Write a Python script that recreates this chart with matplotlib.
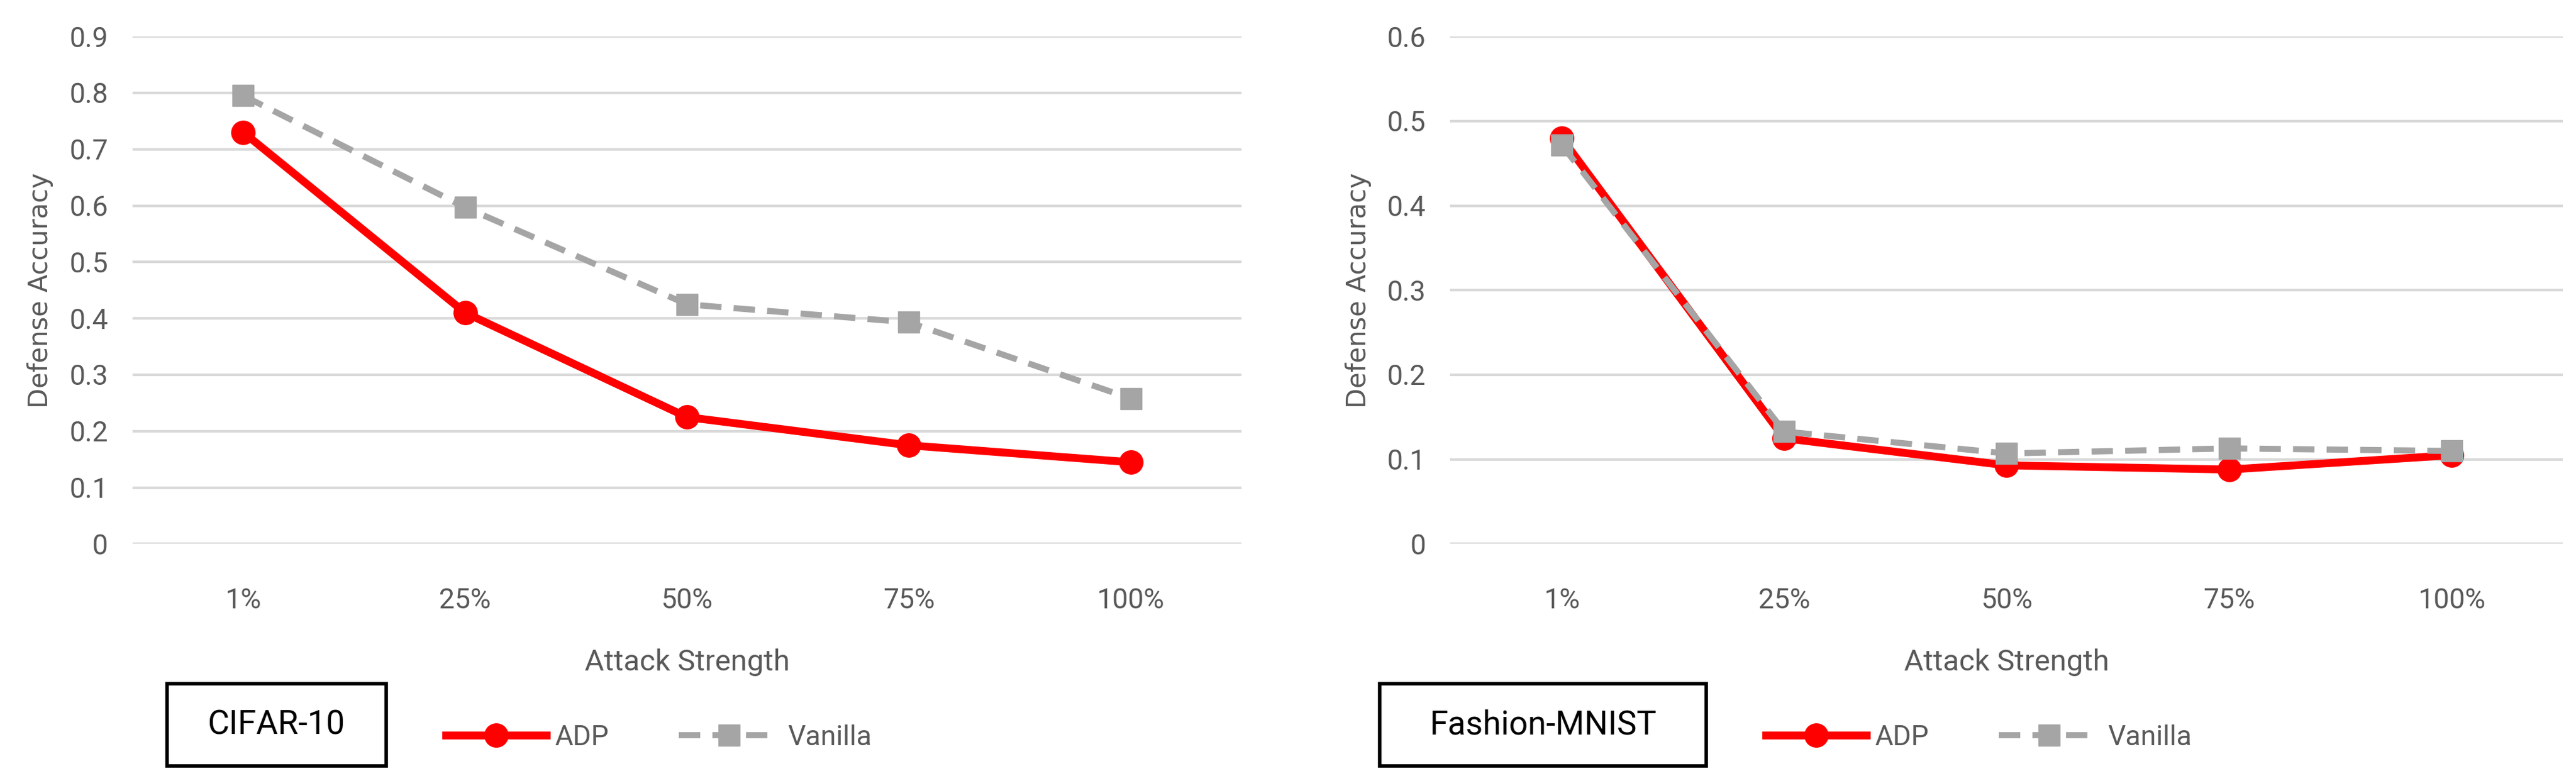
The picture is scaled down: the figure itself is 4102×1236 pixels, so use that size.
import matplotlib
matplotlib.use("Agg")
import matplotlib.pyplot as plt
from matplotlib.lines import Line2D
import matplotlib.patches as mpatches

categories = ["1%", "25%", "50%", "75%", "100%"]
cifar_adp = [0.73, 0.41, 0.225, 0.175, 0.145]
cifar_vanilla = [0.795, 0.597, 0.425, 0.393, 0.258]
fmnist_adp = [0.48, 0.125, 0.093, 0.088, 0.105]
fmnist_vanilla = [0.472, 0.133, 0.107, 0.113, 0.11]

plt.rcParams['font.family'] = ['Liberation Sans Narrow', 'Roboto', 'DejaVu Sans']
TXT = '#595959'
RED = '#ff0000'
GRAY = '#a5a5a5'
DASH = (0, (3.5, 2.0))

fig = plt.figure(figsize=(41.02, 12.36), dpi=100)

def panel(rect, adp, van, ymax, title, box_x0, box_x1, leg_x):
    ax = fig.add_axes(rect)
    x = list(range(len(categories)))
    ax.plot(x, van, color=GRAY, lw=7, ls=DASH, marker='s', ms=24,
            mfc=GRAY, mec=GRAY, zorder=3)
    ax.plot(x, adp, color=RED, lw=9, marker='o', ms=27, mfc=RED, mec=RED, zorder=2)
    ax.set_xlim(-0.5, len(categories) - 0.5)
    ax.set_ylim(0, ymax)
    ticks = [round(i * 0.1, 1) for i in range(int(round(ymax * 10)) + 1)]
    ax.set_yticks(ticks)
    ax.set_yticklabels(['0' if t == 0 else f'{t:g}' for t in ticks])
    ax.set_xticks(x)
    ax.set_xticklabels(categories)
    ax.grid(axis='y', color='#d9d9d9', lw=3)
    ax.set_axisbelow(True)
    for s in ax.spines.values():
        s.set_visible(False)
    ax.tick_params(length=0, labelsize=32, labelcolor=TXT, pad=28)
    ax.tick_params(axis='x', pad=50)
    ax.set_xlabel('Attack Strength', fontsize=34, color=TXT, labelpad=40)
    ax.set_ylabel('Defense Accuracy', fontsize=30, color=TXT, family=['DejaVu Sans'], labelpad=18)
    fig.patches.append(mpatches.Rectangle((box_x0 / 4102, 1 - 1220 / 1236),
                                          (box_x1 - box_x0) / 4102, 131 / 1236,
                                          transform=fig.transFigure, fill=False,
                                          ec='black', lw=4))
    fig.text((box_x0 + box_x1) / 2 / 4102, 1 - 1155 / 1236, title, ha='center',
             va='center', fontsize=38, color='black')
    handles = [Line2D([], [], color=RED, lw=9, marker='o', ms=27),
               Line2D([], [], color=GRAY, lw=7, ls=DASH, marker='s', ms=24)]
    fig.legend(handles, ['ADP', 'Vanilla'], loc='center left',
               bbox_to_anchor=(leg_x / 4102, 1 - 1175 / 1236), ncol=2, frameon=False,
               fontsize=32, labelcolor=TXT, handlelength=3.6, handletextpad=0.3,
               columnspacing=2.5)
    return ax

panel([0.0514, 0.299, 0.4306, 0.654], cifar_adp, cifar_vanilla, 0.9, 'CIFAR-10', 266, 615, 670)
panel([0.563, 0.299, 0.432, 0.654], fmnist_adp, fmnist_vanilla, 0.6, 'Fashion-MNIST', 2197, 2717, 2772)

fig.savefig('out.png', dpi=100)
